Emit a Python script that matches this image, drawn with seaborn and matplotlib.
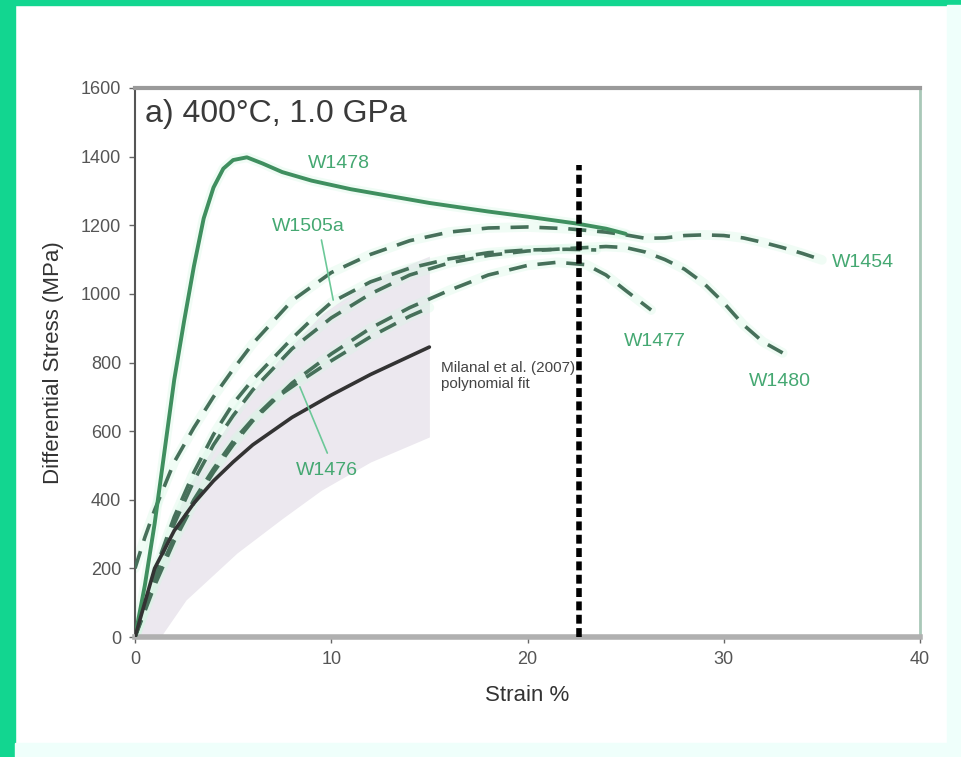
import numpy as np
import pandas as pd
import matplotlib
matplotlib.use("Agg")
import matplotlib.pyplot as plt
from matplotlib.patches import Rectangle
import seaborn as sns

# ---------------- data ----------------
w1478_x = [0, 0.5, 1.0, 1.5, 2.0, 2.5, 3.0, 3.5, 4.0, 4.5, 5.0, 5.7, 6.5, 7.5, 9, 11, 13, 15, 18, 20, 22.5, 24, 25]
w1478_y = [0, 150, 330, 540, 750, 920, 1080, 1220, 1310, 1365, 1390, 1398, 1380, 1355, 1330, 1305, 1285, 1265, 1240, 1225, 1205, 1190, 1175]

w1454_x = [0, 0.5, 1, 1.5, 2, 3, 4, 5, 6, 8, 10, 12, 14, 16, 18, 20, 22, 24, 25, 26, 27, 28, 29, 30, 31, 32, 33, 34, 35]
w1454_y = [200, 290, 370, 440, 510, 610, 700, 780, 855, 980, 1062, 1115, 1155, 1180, 1192, 1195, 1190, 1180, 1172, 1162, 1163, 1170, 1172, 1170, 1163, 1150, 1135, 1118, 1099]

w1505a_x = [0, 1, 2, 3, 4, 5, 6, 7, 8, 9, 10, 12, 14, 16, 18, 20, 22, 23.5]
w1505a_y = [0, 190, 350, 480, 590, 680, 750, 810, 870, 925, 975, 1035, 1075, 1102, 1120, 1128, 1130, 1128]

w1480_x = [0, 1, 2, 3, 4, 5, 6, 8, 10, 12, 14, 16, 18, 20, 22, 24, 25, 26, 27, 28, 29, 30, 31, 32, 33]
w1480_y = [0, 180, 330, 455, 560, 645, 720, 840, 930, 1000, 1055, 1090, 1112, 1125, 1132, 1138, 1135, 1122, 1100, 1072, 1030, 974, 910, 860, 828]

w1477_x = [0, 1, 2, 3, 4, 5, 6, 8, 10, 12, 14, 16, 18, 20, 21.5, 23, 24, 25, 26.3]
w1477_y = [0, 150, 280, 390, 480, 560, 630, 740, 825, 900, 960, 1010, 1055, 1083, 1092, 1085, 1055, 1010, 953]

w1476_x = [0, 1, 2, 3, 4, 5, 6, 7, 8.4, 10, 12, 14, 15]
w1476_y = [0, 160, 290, 400, 490, 570, 635, 690, 745, 805, 875, 935, 960]

fit_x = [0, 1, 2, 3, 4, 5, 6, 8, 10, 12, 15]
fit_y = [0, 200, 310, 390, 455, 510, 560, 640, 705, 765, 845]

band_x = [0, 1.3, 2.6, 5.2, 7.5, 9.5, 12, 15]
band_lo = [0, 0, 108, 245, 345, 428, 510, 583]
band_hi = [0, 220, 430, 660, 820, 940, 1040, 1110]

vline_x = 22.6
vline_top = 1375

x_ticks = [0, 10, 20, 30, 40]
y_ticks = [0, 200, 400, 600, 800, 1000, 1200, 1400, 1600]

# ---------------- figure ----------------
sns.set_style("white")
plt.rcParams['font.family'] = ['Liberation Sans', 'DejaVu Sans']

fig = plt.figure(figsize=(9.61, 7.57), dpi=100)
fig.patch.set_facecolor('white')
# outer frame
fig.patches.append(Rectangle((0, 0), 15/961, 1, transform=fig.transFigure, color='#12d690', zorder=0))
fig.patches.append(Rectangle((0, 1 - 5/757), 1, 5/757, transform=fig.transFigure, color='#12d690', zorder=0))
fig.patches.append(Rectangle((15/961, 0), 1, 14/757, transform=fig.transFigure, color='#effffb', zorder=0))
fig.patches.append(Rectangle((1 - 14/961, 0), 14/961, 1 - 5/757, transform=fig.transFigure, color='#effffb', zorder=0))

ax = fig.add_axes([135/961, 1 - 637/757, (920 - 135)/961, (637 - 88)/757])
ax.set_facecolor('white')

ax.fill_between(band_x, band_lo, band_hi, color='#ece8ef', lw=0, zorder=1)

glow = '#d6f7e4'
dark = '#46705a'
solid_c = '#3f8f5f'

series = [
    (w1454_x, w1454_y, 'W1454'),
    (w1505a_x, w1505a_y, 'W1505a'),
    (w1480_x, w1480_y, 'W1480'),
    (w1477_x, w1477_y, 'W1477'),
    (w1476_x, w1476_y, 'W1476'),
]

for xs, ys, name in series:
    ax.plot(xs, ys, color=glow, lw=7, alpha=0.35, zorder=2, solid_capstyle='round')
ax.plot(w1478_x, w1478_y, color=glow, lw=7, alpha=0.35, zorder=2)

for xs, ys, name in series:
    df = pd.DataFrame({'x': xs, 'y': ys})
    sns.lineplot(data=df, x='x', y='y', ax=ax, sort=False, estimator=None,
                 color=dark, lw=2.6, dashes=False, zorder=4)
    ax.lines[-1].set_dashes((5, 3))

df = pd.DataFrame({'x': w1478_x, 'y': w1478_y})
sns.lineplot(data=df, x='x', y='y', ax=ax, sort=False, estimator=None,
             color=solid_c, lw=2.8, zorder=5)

df = pd.DataFrame({'x': fit_x, 'y': fit_y})
sns.lineplot(data=df, x='x', y='y', ax=ax, sort=False, estimator=None,
             color='#333333', lw=2.6, zorder=5)

ax.plot([vline_x, vline_x], [0, vline_top], color='black', lw=4, zorder=6)
ax.lines[-1].set_dashes((1.6, 0.8))

# pointers
ax.plot([9.5, 10.1], [1157, 982], color='#6cc898', lw=1.2, zorder=6)
ax.plot([9.8, 8.4], [536, 729], color='#6cc898', lw=1.2, zorder=6)

lab_c = '#45a872'
fs = 14
ax.text(8.8, 1380, 'W1478', color=lab_c, fontsize=fs, va='center', ha='left')
ax.text(7.0, 1195, 'W1505a', color=lab_c, fontsize=fs, va='center', ha='left')
ax.text(35.5, 1090, 'W1454', color=lab_c, fontsize=fs, va='center', ha='left')
ax.text(24.9, 862, 'W1477', color=lab_c, fontsize=fs, va='center', ha='left')
ax.text(31.3, 745, 'W1480', color=lab_c, fontsize=fs, va='center', ha='left')
ax.text(8.2, 485, 'W1476', color=lab_c, fontsize=fs, va='center', ha='left')
ax.text(15.6, 760, 'Milanal et al. (2007)\npolynomial fit', color='#444444',
        fontsize=11, va='center', ha='left', linespacing=1.2)
ax.text(0.5, 1525, 'a) 400°C, 1.0 GPa', color='#3a3a3a', fontsize=23, va='center', ha='left')

ax.set_xlim(0, 40)
ax.set_ylim(0, 1600)
ax.set_xticks(x_ticks)
ax.set_yticks(y_ticks)
ax.tick_params(axis='both', labelsize=13, colors='#666666', length=4, width=1,
               direction='out', left=True, bottom=True, pad=6)
for lbl in ax.get_xticklabels() + ax.get_yticklabels():
    lbl.set_color('#555555')
ax.set_xlabel('Strain %', fontsize=16, color='#333333', labelpad=12)
ax.set_ylabel('Differential Stress (MPa)', fontsize=16, color='#333333', labelpad=12)

for side in ['left', 'top', 'right']:
    ax.spines[side].set_color('#9a9a9a')
    ax.spines[side].set_linewidth(1.5)
ax.spines['top'].set_linewidth(3)
ax.spines['right'].set_color('#a9c8b8')
ax.spines['right'].set_linewidth(2)
ax.spines['bottom'].set_color('#b0b0b0')
ax.spines['bottom'].set_linewidth(4)
ax.spines['left'].set_color('#555555')

fig.savefig('out.png', dpi=100, facecolor=fig.get_facecolor())
